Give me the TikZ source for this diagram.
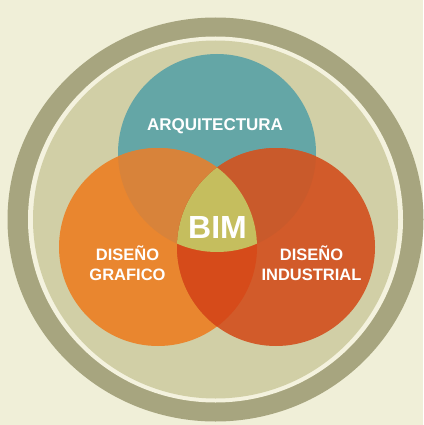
\documentclass[tikz,border=0pt]{standalone}
\usepackage{fontspec}
\setmainfont{Liberation Sans}
\definecolor{bgcream}{HTML}{F0EFD8}
\definecolor{ringdark}{HTML}{A7A57F}
\definecolor{ringline}{HTML}{F4F2DE}
\definecolor{innerdisc}{HTML}{D1CFA6}
\definecolor{teal}{HTML}{64A6A6}
\definecolor{orangec}{HTML}{E9862F}
\definecolor{redc}{HTML}{D25B2A}
\definecolor{tealorange}{HTML}{D8833A}
\definecolor{tealred}{HTML}{C95A2B}
\definecolor{orangered}{HTML}{D64B1A}
\definecolor{centerc}{HTML}{C5BE5E}
\tikzset{
  lbl/.style={text=white, font=\bfseries\fontsize{16.5}{20}\selectfont, align=center, inner sep=0pt},
  bim/.style={text=white, font=\bfseries\fontsize{32}{36}\selectfont, inner sep=0pt}
}
\begin{document}
\begin{tikzpicture}[x=1pt,y=-1pt]
\useasboundingbox (0,0) rectangle (423,425);
\fill[bgcream] (0,0) rectangle (423,425);
\coordinate (ctr) at (215.5,219.5);
\fill[ringdark] (ctr) ellipse [x radius=208, y radius=202];
\fill[ringline] (ctr) ellipse [x radius=187.5, y radius=183];
\fill[innerdisc] (ctr) ellipse [x radius=182.5, y radius=179];
\coordinate (A) at (217,153);
\coordinate (G) at (158,247);
\coordinate (D) at (276,247);
\def\rr{99}
\fill[teal] (A) circle[radius=\rr];
\fill[orangec] (G) circle[radius=\rr];
\fill[redc] (D) circle[radius=\rr];
\begin{scope}
  \clip (A) circle[radius=\rr];
  \fill[tealorange] (G) circle[radius=\rr];
  \fill[tealred] (D) circle[radius=\rr];
\end{scope}
\begin{scope}
  \clip (G) circle[radius=\rr];
  \fill[orangered] (D) circle[radius=\rr];
\end{scope}
\begin{scope}
  \clip (A) circle[radius=\rr];
  \clip (G) circle[radius=\rr];
  \fill[centerc] (D) circle[radius=\rr];
\end{scope}
\node[lbl, font=\bfseries\fontsize{17}{20}\selectfont, anchor=base] (arq) at (215,130) {ARQUITECTURA};
\node[bim, anchor=base] (bimlbl) at (217.5,238) {BIM};
\node[lbl, anchor=center] (dg) at (127.5,263.5) {DISEÑO\\GRAFICO};
\node[lbl, anchor=center] (di) at (311.5,263.5) {DISEÑO\\INDUSTRIAL};
\end{tikzpicture}
\end{document}
